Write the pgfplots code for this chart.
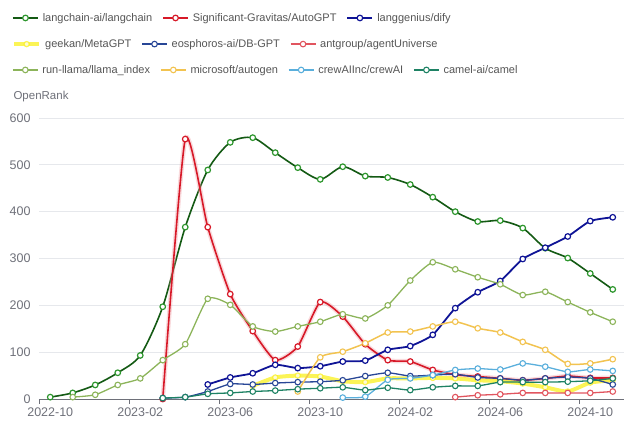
\documentclass[border=0pt]{standalone}
\usepackage{pgfplots}
\pgfplotsset{compat=1.18}
\usepackage{fontspec}
\setmainfont{Liberation Sans}
\definecolor{axisgray}{RGB}{110,112,121}
\definecolor{gridgray}{RGB}{230,232,236}
\definecolor{txtgray}{RGB}{85,85,85}
\definecolor{clLang}{RGB}{20,90,20}
\definecolor{clLangM}{RGB}{45,150,45}
\definecolor{clAuto}{RGB}{215,25,40}
\definecolor{clDify}{RGB}{15,20,150}
\definecolor{clMeta}{RGB}{250,240,30}
\definecolor{clDB}{RGB}{40,70,150}
\definecolor{clAnt}{RGB}{225,85,95}
\definecolor{clLlama}{RGB}{140,180,90}
\definecolor{clAutogen}{RGB}{242,195,80}
\definecolor{clCrew}{RGB}{90,175,220}
\definecolor{clCamel}{RGB}{30,130,100}
\pgfplotsset{
  sLang/.style={smooth, tension=0.45, color=clLang, line width=1.6pt, mark=*, mark size=2.8pt, mark options={draw=clLangM, fill=white, line width=1.2pt, solid}},
  sAuto/.style={smooth, tension=0.35, color=clAuto, line width=1.6pt, mark=*, mark size=2.8pt, mark options={fill=white, line width=1.2pt, solid}},
  sAutoHalo/.style={smooth, tension=0.35, color=clAuto!45, line width=4.5pt, opacity=0.35, mark=none},
  sDify/.style={smooth, tension=0.35, color=clDify, line width=1.8pt, mark=*, mark size=2.8pt, mark options={fill=white, line width=1.2pt, solid}},
  sMeta/.style={smooth, tension=0.35, color=clMeta, line width=4pt, opacity=0.75, mark=*, mark size=2.6pt, mark options={fill=white, line width=1.2pt, solid}},
  sDB/.style={smooth, tension=0.35, color=clDB, line width=1.3pt, mark=*, mark size=2.8pt, mark options={fill=white, line width=1.1pt, solid}},
  sAnt/.style={smooth, tension=0.35, color=clAnt, line width=1.3pt, mark=*, mark size=2.8pt, mark options={fill=white, line width=1.1pt, solid}},
  sLlama/.style={smooth, tension=0.35, color=clLlama, line width=1.3pt, mark=*, mark size=2.8pt, mark options={fill=white, line width=1.1pt, solid}},
  sAutogen/.style={smooth, tension=0.35, color=clAutogen, line width=1.5pt, mark=*, mark size=2.8pt, mark options={fill=white, line width=1.1pt, solid}},
  sCrew/.style={smooth, tension=0.35, color=clCrew, line width=1.3pt, mark=*, mark size=2.8pt, mark options={fill=white, line width=1.1pt, solid}},
  sCamel/.style={smooth, tension=0.35, color=clCamel, line width=1.3pt, mark=*, mark size=2.8pt, mark options={fill=white, line width=1.1pt, solid}},
  commonaxis/.style={scale only axis, width=585pt, height=281pt,
    xmin=-0.5, xmax=25.5, ymin=0, ymax=600, at={(0pt,0pt)}, anchor=south west,
    legend image code/.code={\draw[mark repeat=2,mark phase=2] plot coordinates {(0pt,0pt) (12.5pt,0pt) (25pt,0pt)};},
    legend style={draw=none, fill=none, anchor=west, legend columns=-1,
      font=\fontsize{11}{13}\selectfont, text=txtgray, inner sep=0pt,
      /tikz/every odd column/.append style={column sep=2pt},
      /tikz/every even column/.append style={column sep=8pt},
      cells={anchor=west}},
  },
}
\begin{document}
\begin{tikzpicture}
\path[use as bounding box] (-39pt,-35pt) rectangle (601pt,399pt);
\node[anchor=west, text=axisgray, font=\fontsize{11.5}{13}\selectfont] at (-29pt,302pt) {OpenRank};
\begin{axis}[commonaxis,
  axis x line*=bottom, axis y line*=left,
  y axis line style={draw=none},
  x axis line style={draw=axisgray, line width=0.8pt},
  ymajorgrids, grid style={draw=gridgray, line width=0.8pt},
  ytick={0,100,...,600}, ytick style={draw=none},
  xtick={0,4,8,12,16,20,24},
  xticklabels={2022-10,2023-02,2023-06,2023-10,2024-02,2024-06,2024-10},
  xtick style={draw=none},
  extra x ticks={-0.5,3.5,7.5,11.5,15.5,19.5,23.5},
  extra x tick labels={},
  extra x tick style={xtick style={draw=axisgray, line width=0.8pt}},
  tick align=outside, major tick length=5pt,
  tick label style={font=\fontsize{12.5}{14}\selectfont, text=axisgray},
  /pgf/number format/assume math mode=true,
  clip=false,
]
% langchain
\addplot[sLang] coordinates {(0,4) (1,13) (2,30) (3,56) (4,93) (5,197) (6,367) (7,489) (8,548) (9,558) (10,526) (11,494) (12,469) (13,496) (14,476) (15,473) (16,458) (17,431) (18,400) (19,379) (20,381) (21,365) (22,322) (23,301) (24,268) (25,234)};
% AutoGPT
\addplot[sAutoHalo] coordinates {(5,0) (6,555) (7,367) (8,224) (9,145) (10,83) (11,112) (12,207) (13,176) (14,117) (15,83) (16,80) (17,62) (18,52) (19,48) (20,44) (21,40) (22,44) (23,49) (24,45) (25,45)};
\addplot[sAuto] coordinates {(5,0) (6,555) (7,367) (8,224) (9,145) (10,83) (11,112) (12,207) (13,176) (14,117) (15,83) (16,80) (17,62) (18,52) (19,48) (20,44) (21,40) (22,44) (23,49) (24,45) (25,45)};
% dify
\addplot[sDify] coordinates {(7,31) (8,46) (9,55) (10,73) (11,66) (12,70) (13,80) (14,82) (15,105) (16,113) (17,137) (18,194) (19,228) (20,252) (21,299) (22,323) (23,347) (24,380) (25,388)};
% MetaGPT
\addplot[sMeta] coordinates {(9,28) (10,46) (11,50) (12,48) (13,38) (14,36) (15,44) (16,44) (17,45) (18,44) (19,40) (20,38) (21,33) (22,25) (23,16) (24,35) (25,40)};
% DB-GPT
\addplot[sDB] coordinates {(5,2) (6,4) (7,16) (8,32) (9,31) (10,34) (11,36) (12,37) (13,40) (14,49) (15,56) (16,49) (17,51) (18,53) (19,46) (20,44) (21,40) (22,44) (23,47) (24,44) (25,31)};
% agentUniverse
\addplot[sAnt] coordinates {(18,4) (19,8) (20,10) (21,13) (22,13) (23,13) (24,13) (25,16)};
% llama_index
\addplot[sLlama] coordinates {(1,4) (2,9) (3,30) (4,44) (5,83) (6,117) (7,214) (8,201) (9,155) (10,144) (11,155) (12,165) (13,181) (14,172) (15,200) (16,253) (17,292) (18,277) (19,260) (20,245) (21,222) (22,229) (23,207) (24,185) (25,165)};
% autogen
\addplot[sAutogen] coordinates {(11,16) (12,89) (13,101) (14,119) (15,142) (16,144) (17,155) (18,165) (19,151) (20,142) (21,122) (22,105) (23,75) (24,76) (25,85)};
% crewAI
\addplot[sCrew] coordinates {(13,3) (14,5) (15,41) (16,44) (17,51) (18,62) (19,65) (20,63) (21,76) (22,69) (23,58) (24,63) (25,60)};
% camel
\addplot[sCamel] coordinates {(5,2) (6,4) (7,11) (8,13) (9,16) (10,18) (11,21) (12,23) (13,25) (14,19) (15,24) (16,19) (17,25) (18,28) (19,28) (20,36) (21,36) (22,36) (23,37) (24,39) (25,44)};
\end{axis}
\begin{axis}[commonaxis, hide axis, legend style={at={(-0.0462,1.356)}}]
\addlegendimage{sLang}\addlegendentry{langchain-ai/langchain}
\addlegendimage{sAuto}\addlegendentry{Significant-Gravitas/AutoGPT}
\addlegendimage{sDify}\addlegendentry{langgenius/dify}
\end{axis}
\begin{axis}[commonaxis, hide axis, legend style={at={(-0.0462,1.263)}}]
\addlegendimage{sMeta}\addlegendentry{geekan/MetaGPT}
\addlegendimage{sDB}\addlegendentry{eosphoros-ai/DB-GPT}
\addlegendimage{sAnt}\addlegendentry{antgroup/agentUniverse}
\end{axis}
\begin{axis}[commonaxis, hide axis, legend style={at={(-0.0462,1.171)}}]
\addlegendimage{sLlama}\addlegendentry{run-llama/llama\_index}
\addlegendimage{sAutogen}\addlegendentry{microsoft/autogen}
\addlegendimage{sCrew}\addlegendentry{crewAIInc/crewAI}
\addlegendimage{sCamel}\addlegendentry{camel-ai/camel}
\end{axis}
\end{tikzpicture}
\end{document}
